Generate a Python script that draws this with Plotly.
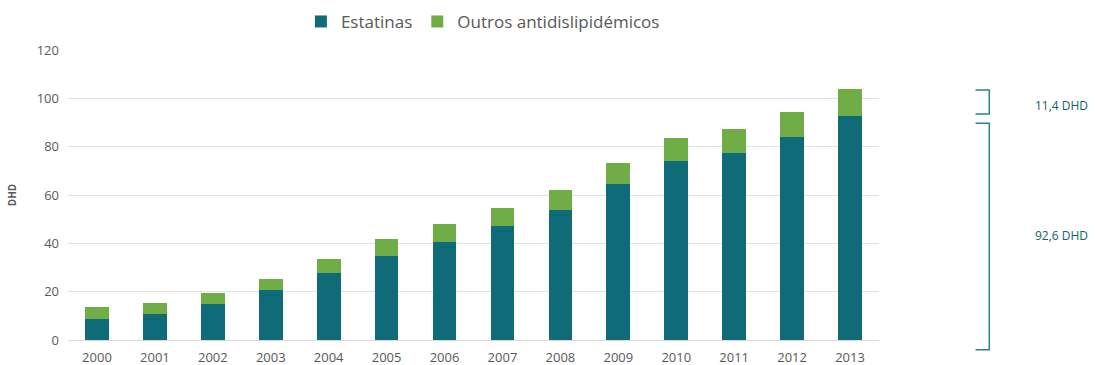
import plotly.graph_objects as go

years = ["2000", "2001", "2002", "2003", "2004", "2005", "2006",
         "2007", "2008", "2009", "2010", "2011", "2012", "2013"]
estatinas = [8.6, 10.9, 14.7, 20.7, 27.9, 34.7, 40.6, 47.1, 54.0, 64.4, 74.1, 77.4, 84.1, 92.6]
outros = [4.9, 4.6, 4.8, 4.6, 5.8, 6.9, 7.3, 7.4, 8.1, 8.7, 9.5, 9.8, 10.1, 11.4]
y_ticks = [0, 20, 40, 60, 80, 100, 120]

TEAL = "#0e6b77"
GREEN = "#70ad47"
FONT = "Open Sans"
Y_MAX = 120

fig = go.Figure()
fig.add_trace(go.Bar(x=years, y=estatinas, name="Estatinas",
                     marker=dict(color=TEAL, line=dict(width=0))))
fig.add_trace(go.Bar(x=years, y=outros, name="Outros antidislipidémicos",
                     marker=dict(color=GREEN, line=dict(width=0))))

last_s = estatinas[-1]
last_total = estatinas[-1] + outros[-1]
bracket_color = "#2a8585"
x0, x1 = 1.119, 1.136

def bracket(ylo, yhi):
    lo, hi = ylo / Y_MAX, yhi / Y_MAX
    return dict(type="path", xref="paper", yref="paper",
                path=f"M {x0},{hi} L {x1},{hi} L {x1},{lo} L {x0},{lo}",
                line=dict(color=bracket_color, width=1.5))

# bracket positions (decorative) relative to the 2013 values
fig.add_shape(**bracket(last_s + 0.9, last_total - 0.6))
fig.add_shape(**bracket(-4.0, last_s - 2.9))

fig.add_annotation(xref="paper", yref="y", x=1.225, xanchor="center",
                   y=(last_s + last_total) / 2 - 1.2,
                   text=f"{outros[-1]:.1f}".replace(".", ",") + " DHD", showarrow=False,
                   font=dict(family=FONT, size=12, color="#0f6368"))
fig.add_annotation(xref="paper", yref="y", x=1.225, xanchor="center", y=43.3,
                   text=f"{last_s:.1f}".replace(".", ",") + " DHD", showarrow=False,
                   font=dict(family=FONT, size=12, color="#0f6368"))

fig.update_layout(
    width=1095, height=365,
    barmode="stack", bargap=0.59,
    plot_bgcolor="white", paper_bgcolor="white",
    margin=dict(l=68, r=216, t=50, b=25, autoexpand=False),
    font=dict(family=FONT, color="#595959"),
    legend=dict(orientation="h", xref="container", x=0.441, xanchor="center",
                yref="container", y=0.94, yanchor="middle",
                font=dict(family=FONT, size=17, color="#595959"),
                itemwidth=30, traceorder="normal"),
    xaxis=dict(showgrid=False, showline=False, ticks="", ticklabelstandoff=8,
               tickfont=dict(size=13, color="#595959")),
    yaxis=dict(range=[0, Y_MAX], tickvals=y_ticks, showgrid=True,
               gridcolor="#e3e3e3", gridwidth=1, zeroline=True,
               zerolinecolor="#d9d9d9", zerolinewidth=1,
               ticks="", ticklabelstandoff=8,
               tickfont=dict(size=13, color="#595959"),
               title=dict(text="<b>DHD</b>", font=dict(size=10, color="#595959"),
                          standoff=18)),
)

fig.write_html("out.html")
